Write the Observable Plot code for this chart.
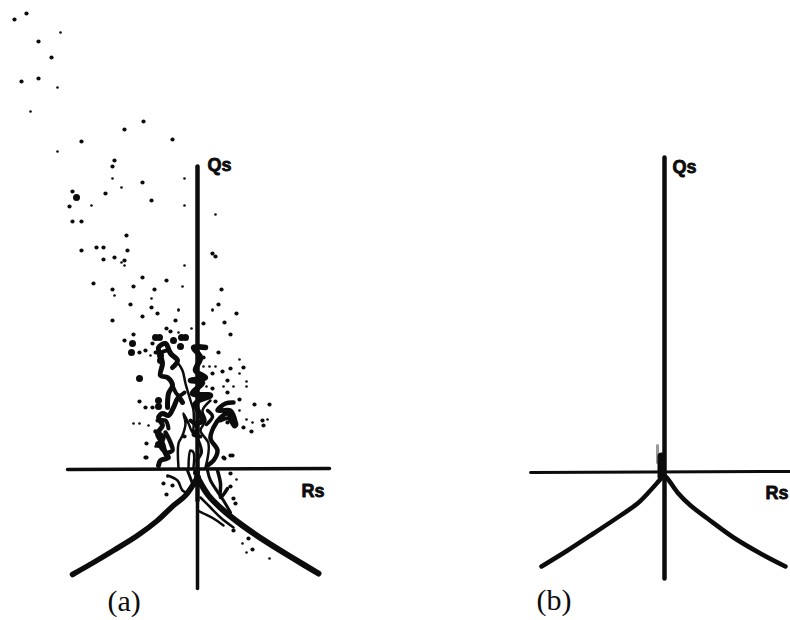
<!DOCTYPE html>
<html><head><meta charset="utf-8">
<script src="https://cdn.jsdelivr.net/npm/d3@7"></script>
<script src="https://cdn.jsdelivr.net/npm/@observablehq/plot@0.6"></script>
<style>html,body{margin:0;padding:0;background:#fff}svg{display:block}</style>
</head><body><div id="chart"></div>
<script>
const scatterLarge = [[26,13],[14,19],[38,41],[51,57],[21,81],[38,78],[143,121],[124,129],[172,139],[81,141],[114,160],[112,166],[142,182],[72,191],[105,193],[69,206],[151,200],[72,221],[81,221],[126,235],[96,247],[103,247],[81,250],[127,250],[212,253],[215,256],[114,257],[103,259],[124,260],[142,277],[166,280],[93,283],[133,286],[112,289],[154,289],[221,289],[130,304],[151,307],[218,304],[112,320],[142,316],[157,313],[175,320],[203,323],[236,313],[224,322],[230,334],[166,328],[170,331],[133,334],[124,340],[152,343],[139,352],[145,350],[218,352],[203,357],[203,347],[243,367],[230,368],[222,371],[212,373],[227,380],[212,388],[227,392],[239,399],[215,401],[254,404],[269,404],[139,401],[145,407],[152,407],[262,420],[263,425],[243,427],[251,431],[146,443],[146,457],[230,455],[224,458],[184,436],[227,422],[145,457],[163,483],[172,485],[166,494],[230,473],[230,486],[233,498],[235,503],[252,549],[248,538],[232,455],[223,457],[233,530]];
const scatterSmall = [[60,32],[57,87],[30,111],[57,151],[112,178],[184,178],[121,187],[91,205],[184,205],[215,214],[121,262],[124,265],[184,265],[182,286],[114,295],[151,298],[212,309],[178,309],[178,310],[212,310],[191,328],[178,332],[150,355],[239,359],[239,373],[209,366],[215,366],[203,366],[246,381],[246,386],[223,386],[233,386],[206,386],[239,410],[246,419],[252,422],[267,419],[133,423],[139,423],[148,425],[155,446],[167,476],[236,479],[242,543],[246,552],[269,558]];
const blobs = [[76,197],[185,337],[181,337],[159,337],[155,337],[132,343],[131,352],[180,346],[173,340],[158,400],[158,406],[139,378],[160,360],[160,355],[158,444],[197,477],[197,483],[196,472]];

const contourOuterLeft = [[158,465],[160,460],[168,457],[165,453],[162,443],[157,433],[162,425],[158,417],[162,413],[168,415],[173,407],[178,397],[182,402]];
const contourUpperLeft = [[167,407],[168,393],[172,385],[167,377],[160,375],[162,363],[160,355],[158,347],[165,343],[170,353],[177,360],[172,367]];
const contourOuterRight = [[207,465],[213,460],[217,450],[210,438],[213,427],[220,417],[227,413],[235,423],[230,410],[217,410],[225,403],[233,402]];
const contourCentral = [[195,423],[202,420],[195,403],[210,395],[192,393],[202,382],[190,380],[205,377],[195,370],[200,357],[193,347],[205,347]];
const contourStrandA = [[155,431],[163,437],[160,445],[166,452],[172,450],[170,442],[165,432]];
const contourStrandB = [[157,420],[165,420],[168,428]];
const contourStrandC = [[220,420],[228,418],[234,426],[236,424],[230,414]];
const contourStrandD = [[207,410],[212,416],[206,424]];
const contourStrandE = [[198,440],[201,452],[196,460]];
const contourStrandF = [[172,385],[178,395],[184,392]];
const contourStrandG = [[190,420],[197,428],[193,434],[200,436]];
const contourStrandH = [[155,352],[160,352],[168,350],[172,355]];
const contourInnerLeft = [[178,467],[178,443],[182,435],[185,423],[183,413],[188,423],[192,432],[193,410],[190,400],[185,383],[182,370],[177,362]];
const contourInnerMid = [[188,467],[190,450],[193,452],[193,467]];
const contourInnerRight = [[205,467],[208,443],[200,430],[205,420],[202,410],[210,400]];
const contourBelowLeft = [[167,475],[177,480],[182,490],[188,493]];
const contourBelowMid = [[187,470],[192,483]];
const contourBelowRight1 = [[200,497],[210,507],[220,517],[233,527]];
const contourBelowRight2 = [[197,510],[203,513],[213,518],[223,525]];
const contourBelowRight3 = [[217,470],[220,483],[220,497],[227,488]];
const contourBelowRight4 = [[207,470],[210,480],[223,500],[230,512]];

const curveALeft = [[72,574],[93,562],[113,550],[137,535],[157,520],[173,505],[185,495],[197,477]];
const curveARight = [[197,477],[208,495],[223,510],[242,525],[267,542],[293,558],[318,573]];
const axisAHorizontal = [[67,469],[329,468]];
const axisAVertical = [[197,166],[197,500]];
const axisAVerticalLow = [[197,500],[197,588]];

const curveBLeft = [[541,566],[567,550],[593,533],[620,515],[637,503],[648,492],[657,482],[663,475]];
const curveBRight = [[664,475],[667,478],[677,492],[690,505],[707,518],[733,537],[760,553],[785,566]];
const axisBHorizontal = [[530,472],[790,471]];
const axisBVertical = [[664,157],[664,578]];
const originBlobB = [[661,456],[661,476]];
const originSmearB = [[657,445],[657,462]];

const labelTexts = ["Qs","Rs","Qs","Rs"];
const labelPositions = [[207,165],[301,491],[672,167],[765,493]];
const panelTexts = ["(a)","(b)"];
const panelPositions = [[107,601],[536,600]];

const ink = "#0c0c0c";
const path = (pts, w, color = ink) => Plot.line(pts, {x: d => d[0], y: d => d[1], stroke: color, strokeWidth: w, strokeLinecap: "round", strokeLinejoin: "round", curve: "catmull-rom"});
const dots = (pts, r) => Plot.dot(pts, {x: d => d[0], y: d => d[1], r, fill: ink, stroke: "none"});

const fig = Plot.plot({
  width: 790, height: 620,
  marginTop: 0, marginRight: 0, marginBottom: 0, marginLeft: 0,
  x: {domain: [0, 790], axis: null},
  y: {domain: [620, 0], axis: null},
  style: {background: "#fff"},
  marks: [
    dots(scatterSmall, 1.3),
    dots(scatterLarge, 2.1),
    dots(blobs, 3.5),
    path(contourOuterLeft, 5), path(contourUpperLeft, 5), path(contourOuterRight, 4.5), path(contourCentral, 5.5),
    path(contourStrandA, 4.5), path(contourStrandB, 4), path(contourStrandC, 4), path(contourStrandD, 3.5), path(contourStrandE, 3), path(contourStrandF, 4), path(contourStrandG, 4), path(contourStrandH, 4),
    path(contourInnerLeft, 2.5), path(contourInnerMid, 2.5), path(contourInnerRight, 2.5),
    path(contourBelowLeft, 2.5), path(contourBelowMid, 3), path(contourBelowRight1, 2.5), path(contourBelowRight2, 2.5),
    path(contourBelowRight3, 3.5), path(contourBelowRight4, 3),
    path(axisAHorizontal, 3.5), path(axisAVertical, 4.5), path(axisAVerticalLow, 3.5),
    path(curveALeft, 5.5), path(curveARight, 6),
    path(originSmearB, 3, "#999"), path(originBlobB, 8),
    path(axisBHorizontal, 3), path(axisBVertical, 4.5),
    path(curveBLeft, 4.5), path(curveBRight, 4.5),
    Plot.text(labelTexts, {x: (d,i) => labelPositions[i][0], y: (d,i) => labelPositions[i][1], text: d => d, textAnchor: "start", lineAnchor: "middle", fontFamily: "Liberation Sans", fontWeight: "bold", fontSize: 18, fill: ink, stroke: ink, strokeWidth: 0.8}),
    Plot.text(panelTexts, {x: (d,i) => panelPositions[i][0], y: (d,i) => panelPositions[i][1], text: d => d, textAnchor: "start", lineAnchor: "middle", fontFamily: "Liberation Serif", fontSize: 30, fill: ink})
  ]
});
document.getElementById("chart").append(fig);
</script></body></html>
